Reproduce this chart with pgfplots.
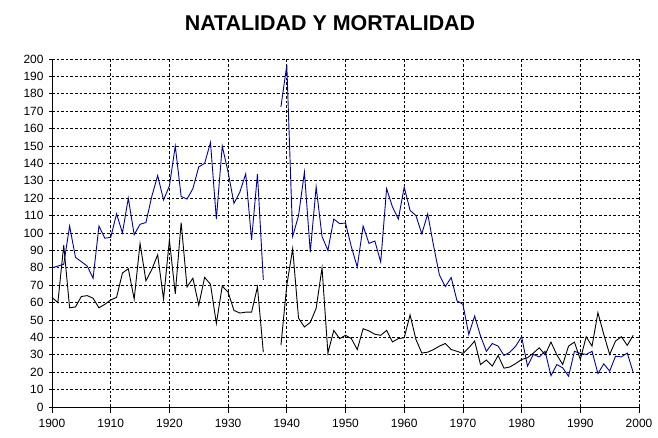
\documentclass[border=0pt]{standalone}
\usepackage{pgfplots}
\usepackage{pgfplotstable}
\pgfplotsset{compat=1.18}
\usepackage{fontspec}
\setmainfont{Liberation Sans}
\definecolor{natblue}{RGB}{0,0,170}

\pgfplotstableread{
year nat mort
1900 80 63
1901 81 60
1902 82 93
1903 104 57
1904 86 57.5
1905 83.5 63.5
1906 81 64
1907 74 62.5
1908 104 57
1909 97 59
1910 97.5 61.5
1911 111 63
1912 100 77
1913 120 79.5
1914 99 62
1915 105 94
1916 106 72.5
1917 121 79
1918 133 87.5
1919 119 62
1920 127 96
1921 150 65
1922 121 106
1923 119.5 69
1924 125.5 74
1925 138 58.5
1926 140 74.5
1927 152 70.5
1928 108 48
1929 150 69.5
1930 135 66
1931 117 55.5
1932 123.5 54
1933 134 54.5
1934 96 54.5
1935 134 69
1936 73 31.5
1937 nan nan
1938 nan nan
1939 172.5 35.5
1940 196.5 70
1941 98 91
1942 110 51
1943 135 46
1944 89 48.6
1945 126.5 56.7
1946 98 80
1947 90 31
1948 108 44
1949 105.4 39.3
1950 105.7 41.2
1951 92 39.3
1952 80.5 33
1953 104 45
1954 94 43.7
1955 95.4 41.8
1956 83.3 41.2
1957 125.5 44
1958 115 37.4
1959 108 39.3
1960 126.4 39.8
1961 113 52.9
1962 110 38.8
1963 99.5 31
1964 111 31.5
1965 92.7 33
1966 75.8 35
1967 69.2 36.5
1968 74.4 33
1969 61 32
1970 59 30.8
1971 41.7 34
1972 52.3 37.9
1973 40.8 24.4
1974 32 27
1975 36.5 23.5
1976 35 29.6
1977 29.6 22.3
1978 31.5 23
1979 35 25
1980 40.4 27.3
1981 23.5 28.3
1982 30.2 31
1983 28.8 34
1984 32 30
1985 18 37.3
1986 24.4 30
1987 22.5 24.4
1988 17.7 35
1989 32 37.3
1990 30.8 27.3
1991 30.2 40.4
1992 32 35
1993 19.2 54.2
1994 24.8 41.7
1995 20.6 30.2
1996 29.2 37.9
1997 28.8 40.4
1998 31 35.4
1999 20 41.2
}\datatable

\begin{document}
\begin{tikzpicture}[x=1bp,y=1bp]
\useasboundingbox (0,0) rectangle (658,438);
\node[font=\bfseries\fontsize{21.5}{24}\selectfont] at (330,415) {NATALIDAD Y MORTALIDAD};
\begin{axis}[
  at={(52bp,31bp)}, anchor=south west,
  scale only axis,
  width=587bp, height=348bp,
  xmin=1900, xmax=2000, ymin=0, ymax=200,
  xtick={1900,1910,...,2000},
  ytick={0,10,...,200},
  axis lines=left,
  axis line style={-, black, line width=0.8bp},
  grid=major,
  major grid style={black, line width=0.7bp, dash pattern=on 2.6bp off 2bp},
  /pgf/number format/assume math mode=true,
  /pgf/number format/1000 sep={},
  tick label style={font=\fontsize{12}{14}\selectfont},
  xtick align=outside,
  ytick align=center,
  major tick length=6bp,
  tick style={black, line width=0.8bp},
  xticklabel style={yshift=-3bp},
  yticklabel style={xshift=-2bp},
  unbounded coords=jump,
  clip=false,
]
\addplot[natblue, line width=0.9bp, mark=none] table[x=year, y=nat] {\datatable};
\addplot[black, line width=0.9bp, mark=none] table[x=year, y=mort] {\datatable};
\end{axis}
\end{tikzpicture}
\end{document}
